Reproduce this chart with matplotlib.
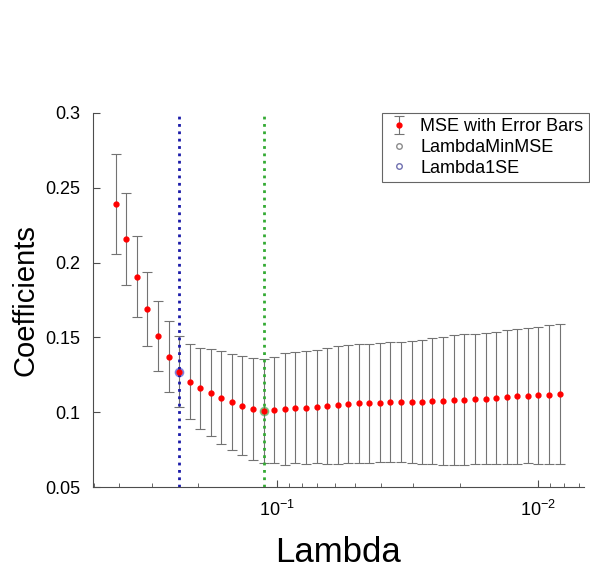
import numpy as np
import matplotlib
matplotlib.use('Agg')
import matplotlib.pyplot as plt
from matplotlib.ticker import LogLocator

plt.rcParams['font.family'] = ['Liberation Sans', 'DejaVu Sans']

# lambda values
lam = [0.4116, 0.3751, 0.3418, 0.3114, 0.2838, 0.2586, 0.2357, 0.2148, 0.1957,
       0.1783, 0.1626, 0.1481, 0.1350, 0.1230, 0.1121, 0.1021, 0.0931, 0.0848,
       0.0773, 0.0704, 0.0642, 0.0585, 0.0533, 0.0486, 0.0443, 0.0403, 0.0368,
       0.0335, 0.0305, 0.0278, 0.0254, 0.0231, 0.0210, 0.0192, 0.0175, 0.0159,
       0.0145, 0.0132, 0.0121, 0.0110, 0.0100, 0.0091, 0.0083]
mse = [0.2392, 0.2158, 0.1906, 0.1688, 0.1509, 0.1371, 0.1271, 0.1204, 0.1160,
       0.1131, 0.1097, 0.1070, 0.1044, 0.1023, 0.1008, 0.1015, 0.1021, 0.1030,
       0.1030, 0.1037, 0.1044, 0.1048, 0.1055, 0.1059, 0.1059, 0.1064, 0.1066,
       0.1068, 0.1068, 0.1068, 0.1075, 0.1077, 0.1080, 0.1084, 0.1088, 0.1090,
       0.1095, 0.1102, 0.1106, 0.1110, 0.1113, 0.1117, 0.1122]
se = [0.0335, 0.0306, 0.0270, 0.0246, 0.0237, 0.0237, 0.0238, 0.0252, 0.0271,
      0.0292, 0.0310, 0.0320, 0.0330, 0.0340, 0.0345, 0.0355, 0.0373, 0.0370,
      0.0379, 0.0379, 0.0387, 0.0395, 0.0396, 0.0399, 0.0399, 0.0396, 0.0401,
      0.0401, 0.0408, 0.0417, 0.0419, 0.0428, 0.0434, 0.0437, 0.0435, 0.0437,
      0.0443, 0.0445, 0.0450, 0.0451, 0.0459, 0.0464, 0.0466]
idx_min = 14   # LambdaMinMSE
idx_1se = 6    # Lambda1SE

yticks = [0.05, 0.1, 0.15, 0.2, 0.25, 0.3]
ytick_labels = ['0.05', '0.1', '0.15', '0.2', '0.25', '0.3']

fig = plt.figure(figsize=(5.9, 5.72), dpi=100)
ax = fig.add_axes([0.1576, 0.1486, 0.832, 0.654])

eb = ax.errorbar(lam, mse, yerr=se, fmt='o', color='red', ms=3.5, ecolor='0.45',
                 elinewidth=0.8, capsize=3.5, capthick=0.8,
                 label='MSE with Error Bars')
h_min, = ax.plot(lam[idx_min], mse[idx_min], 'o', ms=6, mfc=(0.2, 0.6, 0.2, 0.45),
                 mec=(0.2, 0.6, 0.2, 0.5), label='LambdaMinMSE')
h_1se, = ax.plot(lam[idx_1se], mse[idx_1se], 'o', ms=6, mfc=(0.2, 0.2, 0.8, 0.45),
                 mec=(0.2, 0.2, 0.8, 0.5), label='Lambda1SE')
ax.axvline(lam[idx_min], color='#33aa33', ls=':', lw=2)
ax.axvline(lam[idx_1se], color='#1a1aa8', ls=':', lw=2)

ax.set_xscale('log')
ax.set_xlim(0.503, 0.0067)
ax.set_ylim(0.05, 0.3)
ax.set_yticks(yticks)
ax.set_yticklabels(ytick_labels)
ax.xaxis.set_minor_locator(LogLocator(base=10, subs=np.arange(2, 10)))
ax.xaxis.set_minor_formatter(plt.NullFormatter())

for s in ['top', 'right']:
    ax.spines[s].set_visible(False)
for s in ['left', 'bottom']:
    ax.spines[s].set_color('0.3')
ax.tick_params(axis='both', which='major', direction='in', length=5,
               color='0.3', labelsize=13, pad=9)
ax.tick_params(axis='x', which='minor', direction='in', length=3, color='0.3')
ax.tick_params(axis='y', which='minor', left=False)

ax.set_xlabel('Lambda', fontsize=25, labelpad=12)
ax.set_ylabel('Coefficients', fontsize=21, labelpad=4)

leg = ax.legend(handles=[eb, h_min, h_1se],
                loc='upper right', bbox_to_anchor=(1.01, 1.0), borderaxespad=0,
                fontsize=13, fancybox=False, edgecolor='0.4', framealpha=1,
                handlelength=1.2, handletextpad=0.6, labelspacing=0.2,
                borderpad=0.3)
leg.get_frame().set_linewidth(0.8)
# small open circles in the legend, as in the original
for h, c in zip(leg.legend_handles[1:], ['0.55', '#7070b0']):
    h.set_markersize(4)
    h.set_markerfacecolor('none')
    h.set_markeredgecolor(c)

plt.savefig('out.png', dpi=100)
